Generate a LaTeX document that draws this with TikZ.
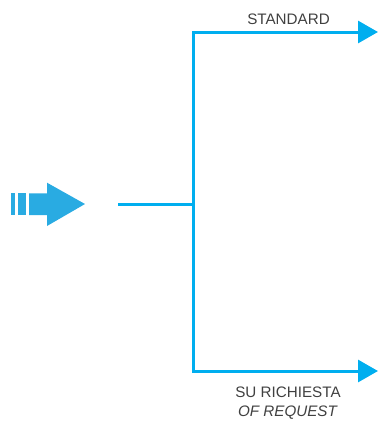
\documentclass[tikz,border=0pt]{standalone}
\usepackage{fontspec}
\setmainfont{Liberation Sans}
\usetikzlibrary{arrows.meta}
\definecolor{lineblue}{HTML}{00AEEF}
\definecolor{blockblue}{HTML}{29ABE2}
\definecolor{txtgray}{HTML}{404040}
\begin{document}
\begin{tikzpicture}[x=1pt,y=-1pt,
  conn/.style={draw=lineblue,line width=3pt},
  arrs/.style={conn,line join=miter,{Triangle[length=20pt,width=22pt]}-{Triangle[length=20pt,width=22pt]}},
  lbl/.style={text=txtgray,font=\fontsize{15.2}{17}\selectfont,inner sep=0pt,anchor=base}]
\useasboundingbox (0,0) rectangle (378,421);
% block arrow
\fill[blockblue] (11,193.3) rectangle (15,215);
\fill[blockblue] (18,193.3) rectangle (26,215);
\fill[blockblue] (29,193.3) -- (47,193.3) -- (47,182.7) -- (85,204) -- (47,226) -- (47,215) -- (29,215) -- cycle;
% connectors
\coordinate (in) at (118,204);
\coordinate (j) at (193.5,204);
\coordinate (tl) at (193.5,32);
\coordinate (bl) at (193.5,371);
\coordinate (tr) at (378,32);
\coordinate (br) at (378,371);
\draw[conn] (in) -- (j);
\draw[arrs] (tr) -- (tl) -- (bl) -- (br);
\node[lbl] (std) at (288.5,24) {STANDARD};
\node[lbl] (su) at (288,397.3) {SU RICHIESTA};
\node[lbl] (of) at (287.5,416.7) {\itshape OF REQUEST};
\end{tikzpicture}
\end{document}
